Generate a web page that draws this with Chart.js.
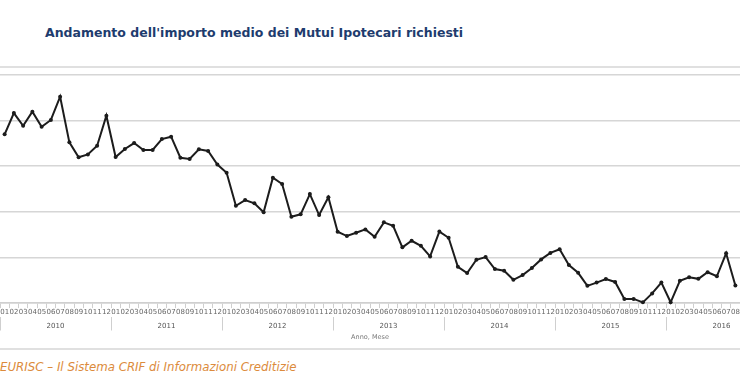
<!DOCTYPE html>
<html>
<head>
<meta charset="utf-8">
<script src="https://cdn.jsdelivr.net/npm/chart.js@4/dist/chart.umd.min.js"></script>
<style>
  html, body { margin: 0; padding: 0; background: #fff; }
  body { width: 740px; height: 389px; position: relative; overflow: hidden; }
  #title {
    position: absolute; left: 45px; top: 25px;
    font-family: "DejaVu Sans", sans-serif;
    font-weight: bold; font-size: 12.5px; color: #1e3c6e; white-space: nowrap;
  }
  .rule { position: absolute; left: 0; width: 740px; height: 2px; background: #e0e0e0; }
  #footer {
    position: absolute; left: 0; top: 360px;
    font-family: "DejaVu Sans", sans-serif;
    font-style: italic; font-size: 11.8px; color: #dc8b3c; white-space: nowrap;
  }
  #wrap { position: absolute; left: 0; top: 68px; width: 740px; height: 275px; }
</style>
</head>
<body>
<div id="title">Andamento dell'importo medio dei Mutui Ipotecari richiesti</div>
<div class="rule" style="top:66px"></div>
<div id="wrap"><canvas id="mutuiChart"></canvas></div>
<div class="rule" style="top:348px"></div>
<div id="footer">EURISC – Il Sistema CRIF di Informazioni Creditizie</div>

<script>
const years = ['2010', '2011', '2012', '2013', '2014', '2015', '2016'];
const months = ['01', '02', '03', '04', '05', '06', '07', '08', '09', '10', '11', '12'];
const monthsShown = 80; // gen 2010 - ago 2016

// importo medio richiesto (euro)
const importoMedio = [
  128500, 130830, 129440, 130980, 129330, 130070, 132620, 127620, 125980, 126300, 127250, 130540,
  126010, 126890, 127540, 126780, 126780, 127980, 128240, 125930, 125790, 126850, 126670, 125190,
  124290, 120670, 121290, 120930, 119950, 123740, 123050, 119460, 119730, 121950, 119650, 121590,
  117820, 117350, 117710, 118080, 117270, 118850, 118470, 116110, 116830, 116280, 115120, 117840,
  117160, 113980, 113290, 114750, 115040, 113730, 113540, 112550, 113070, 113840, 114790, 115500,
  115900, 114170, 113320, 111890, 112250, 112630, 112320, 110440, 110460, 110080, 111060, 112250,
  110090, 112450, 112830, 112660, 113380, 112940, 115460, 111920
];
const yMin = 110000, yMax = 135000, yStep = 5000;

const monthLabels = [];
years.forEach(y => months.forEach(m => monthLabels.push(m)));
monthLabels.length = monthsShown;

// the plot runs edge to edge, like the cropped original
const noSidePadding = scale => { scale.paddingLeft = 0; scale.paddingRight = 0; };

const ctx = document.getElementById('mutuiChart').getContext('2d');
new Chart(ctx, {
  type: 'line',
  data: {
    labels: monthLabels,
    datasets: [{
      data: importoMedio,
      borderColor: '#1c1c1c',
      backgroundColor: '#1c1c1c',
      borderWidth: 2,
      pointRadius: 2,
      pointBorderWidth: 0,
      pointBackgroundColor: '#1c1c1c',
      tension: 0,
      clip: false
    }]
  },
  options: {
    responsive: true,
    maintainAspectRatio: false,
    animation: false,
    layout: { autoPadding: false, padding: { top: 7, left: 0, right: 0, bottom: 0 } },
    plugins: { legend: { display: false }, tooltip: { enabled: false } },
    scales: {
      x: {
        type: 'category',
        position: 'bottom',
        weight: 0,
        offset: true,
        afterFit: noSidePadding,
        grid: { offset: true, drawOnChartArea: false, tickLength: 5, color: '#cfcfcf', lineWidth: 1 },
        border: { color: '#cfcfcf', width: 1.5 },
        ticks: {
          autoSkip: false, maxRotation: 0, minRotation: 0, padding: 0,
          font: { family: 'DejaVu Sans', size: 7 }, color: '#666'
        }
      },
      x2: {
        type: 'linear',
        position: 'bottom',
        weight: 1,
        min: 0,
        max: monthsShown,
        afterBuildTicks: scale => {
          scale.ticks = years.map((y, i) => ({ value: i * 12 + 6 }));
        },
        afterFit: noSidePadding,
        grid: { offset: true, drawOnChartArea: false, tickLength: 14, color: '#cfcfcf', lineWidth: 1 },
        border: { display: false },
        ticks: {
          padding: -8.6,
          font: { family: 'DejaVu Sans', size: 7 }, color: '#555',
          callback: (v, i) => years[i]
        },
        title: {
          display: true, text: 'Anno, Mese',
          font: { family: 'DejaVu Sans', size: 6.5 }, color: '#777',
          padding: { top: 11.5, bottom: 2 }
        }
      },
      y: {
        min: yMin,
        max: yMax,
        afterFit: scale => { scale.width = 0; scale.paddingTop = 0; scale.paddingBottom = 0; },
        border: { display: false },
        grid: { color: '#d6d6d6', lineWidth: 1.5, drawTicks: false },
        ticks: { display: false, stepSize: yStep }
      }
    }
  }
});
</script>
</body>
</html>
